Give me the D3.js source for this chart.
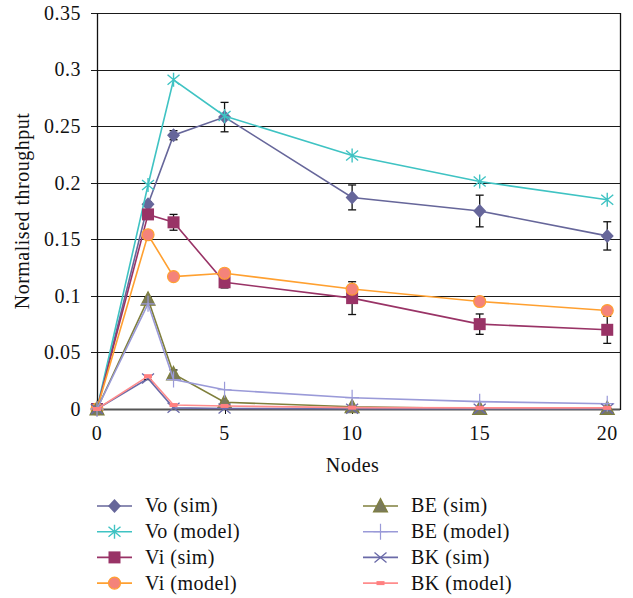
<!DOCTYPE html>
<html>
<head>
<meta charset="utf-8">
<script src="https://cdn.jsdelivr.net/npm/d3@7"></script>
<style>
  body { margin: 0; background: #fff; }
  svg text { font-family: "Liberation Serif", "DejaVu Serif", serif; fill: #111; letter-spacing: 0.5px; }
</style>
</head>
<body>
<div id="chart"></div>
<script>
// data
var nodes = [0, 2, 3, 5, 10, 15, 20];

var voSim   = [0, 0.181, 0.242, 0.258, 0.187, 0.175, 0.153];
var voSimErr = [0, 0.002, 0.004, 0.013, 0.011, 0.014, 0.0125];
var voModel = [0, 0.198, 0.291, 0.259, 0.224, 0.201, 0.185];
var viSim   = [0, 0.172, 0.165, 0.112, 0.098, 0.075, 0.070];
var viSimErr = [0, 0.002, 0.007, 0.005, 0.0145, 0.009, 0.012];
var viModel = [0, 0.154, 0.117, 0.120, 0.106, 0.095, 0.087];
var beSim   = [0, 0.097, 0.031, 0.006, 0.002, 0.0005, 0.0005];
var beSimErr = [0, 0.002, 0.0035, 0.001, 0.001, 0, 0];
var beModel = [0, 0.093, 0.026, 0.017, 0.010, 0.0065, 0.0047];
var bkSim   = [0, 0.027, 0.001, 0.0005, 0.0003, 0.0003, 0.0003];
var bkSimErr = [0, 0.001, 0, 0, 0, 0, 0];
var bkModel = [0, 0.029, 0.0035, 0.0027, 0.0012, 0.001, 0.001];

var yTicks = [0, 0.05, 0.1, 0.15, 0.2, 0.25, 0.3, 0.35];
var xTicks = [0, 5, 10, 15, 20];

var series = [
  { name: "Vo (sim)",    values: voSim,   err: voSimErr, line: "#66669a", marker: "diamond",  fill: "#66669a" },
  { name: "Vo (model)",  values: voModel, line: "#3fc3c3", marker: "star",     fill: "none" },
  { name: "Vi (sim)",    values: viSim,   err: viSimErr, line: "#993366", marker: "square",   fill: "#993366" },
  { name: "Vi (model)",  values: viModel, line: "#ffa030", marker: "circle",   fill: "#f4837a" },
  { name: "BE (sim)",    values: beSim,   err: beSimErr, line: "#7f7f3c", marker: "triangle", fill: "#7a7a5c" },
  { name: "BE (model)",  values: beModel, line: "#9a9ad8", marker: "plus",     fill: "none" },
  { name: "BK (sim)",    values: bkSim,   err: bkSimErr, line: "#6a6aa8", marker: "cross",    fill: "none" },
  { name: "BK (model)",  values: bkModel, line: "#ff8c8c", marker: "dash",     fill: "#ff8080" }
];

var width = 633, height = 598;
var plotL = 97, plotT = 13, plotR = 620, plotB = 409;
var fontSize = "20px";
var fontFamily = "Liberation Serif, DejaVu Serif, serif";

var svg = d3.select("#chart").append("svg")
  .attr("width", width)
  .attr("height", height)
  .attr("font-family", fontFamily);

var x = d3.scaleLinear().domain([0, 20.5]).range([plotL, plotR]);
var y = d3.scaleLinear().domain([0, 0.35]).range([plotB, plotT]);

// gridlines
svg.append("g").selectAll("line").data(yTicks).enter().append("line")
  .attr("x1", plotL - 6).attr("x2", plotR)
  .attr("y1", function (d) { return Math.round(y(d)) + 0.5; })
  .attr("y2", function (d) { return Math.round(y(d)) + 0.5; })
  .attr("stroke", function (d) { return d === 0 ? "#555" : "#1a1a1a"; })
  .attr("stroke-width", function (d) { return d === 0 ? 2 : 1.2; });

// frame: left axis + right edge
svg.append("line").attr("x1", plotL + 0.5).attr("x2", plotL + 0.5)
  .attr("y1", plotT).attr("y2", plotB).attr("stroke", "#111").attr("stroke-width", 1.3);
svg.append("line").attr("x1", plotR + 0.5).attr("x2", plotR + 0.5)
  .attr("y1", plotT).attr("y2", plotB + 1).attr("stroke", "#111").attr("stroke-width", 1.3);

// x ticks
svg.append("g").selectAll("line").data(xTicks).enter().append("line")
  .attr("x1", function (d) { return Math.round(x(d)) + 0.5; })
  .attr("x2", function (d) { return Math.round(x(d)) + 0.5; })
  .attr("y1", plotB).attr("y2", plotB + 5)
  .attr("stroke", "#111");

// tick labels
svg.append("g").selectAll("text").data(yTicks).enter().append("text")
  .attr("x", plotL - 16)
  .attr("y", function (d) { return y(d); })
  .attr("dy", "0.34em")
  .attr("text-anchor", "end")
  .attr("font-family", fontFamily)
  .style("font-size", fontSize)
  .text(function (d) { return d; });

svg.append("g").selectAll("text").data(xTicks).enter().append("text")
  .attr("x", function (d) { return x(d); })
  .attr("y", 440)
  .attr("text-anchor", "middle")
  .attr("font-family", fontFamily)
  .style("font-size", fontSize)
  .text(function (d) { return d; });

// axis titles
svg.append("text")
  .attr("x", (plotL + plotR) / 2 - 6)
  .attr("y", 472)
  .attr("text-anchor", "middle")
  .attr("font-family", fontFamily)
  .style("font-size", fontSize)
  .text("Nodes");

svg.append("text")
  .attr("transform", "translate(29," + ((plotT + plotB) / 2) + ") rotate(-90)")
  .attr("text-anchor", "middle")
  .attr("font-family", fontFamily)
  .style("font-size", fontSize)
  .text("Normalised throughput");

// marker drawing
function drawMarker(g, s) {
  var m = s.marker;
  if (m === "diamond") {
    g.append("path").attr("d", "M0,-7L6.5,0L0,7L-6.5,0Z").attr("fill", s.fill);
  } else if (m === "square") {
    g.append("rect").attr("x", -6).attr("y", -6).attr("width", 12).attr("height", 12).attr("fill", s.fill);
  } else if (m === "circle") {
    g.append("circle").attr("r", 6).attr("fill", s.fill).attr("stroke", s.line).attr("stroke-width", 1.2);
  } else if (m === "triangle") {
    g.append("path").attr("d", "M0,-7.5L7,6L-7,6Z").attr("fill", s.fill).attr("stroke", s.line).attr("stroke-width", 1.2);
  } else if (m === "star") {
    g.append("path").attr("d", "M0,-7V7M-6,-5L6,5M-6,5L6,-5")
      .attr("stroke", s.line).attr("stroke-width", 1.4).attr("fill", "none");
  } else if (m === "plus") {
    g.append("path").attr("d", "M0,-8V8M-7,0H7")
      .attr("stroke", s.line).attr("stroke-width", 1.2).attr("fill", "none");
  } else if (m === "cross") {
    g.append("path").attr("d", "M-6,-5L6,5M-6,5L6,-5")
      .attr("stroke", s.line).attr("stroke-width", 1.3).attr("fill", "none");
  } else if (m === "dash") {
    g.append("rect").attr("x", -4).attr("y", -2).attr("width", 8).attr("height", 4).attr("fill", s.fill);
  }
}

var line = d3.line()
  .x(function (d) { return x(d.n); })
  .y(function (d) { return y(d.v); });

var plot = svg.append("g");

series.forEach(function (s) {
  var pts = nodes.map(function (n, i) {
    return { n: n, v: s.values[i], e: s.err ? s.err[i] : 0 };
  });
  var g = plot.append("g");
  g.append("path")
    .datum(pts)
    .attr("d", line)
    .attr("fill", "none")
    .attr("stroke", s.line)
    .attr("stroke-width", 1.6);

  if (s.err) {
    var eb = g.selectAll(".err").data(pts.filter(function (d) { return d.e > 0; }))
      .enter().append("g").attr("class", "err");
    eb.append("line")
      .attr("x1", function (d) { return x(d.n); })
      .attr("x2", function (d) { return x(d.n); })
      .attr("y1", function (d) { return y(d.v + d.e); })
      .attr("y2", function (d) { return y(d.v - d.e); })
      .attr("stroke", "#111").attr("stroke-width", 1.3);
    eb.append("line")
      .attr("x1", function (d) { return x(d.n) - 4; })
      .attr("x2", function (d) { return x(d.n) + 4; })
      .attr("y1", function (d) { return y(d.v + d.e); })
      .attr("y2", function (d) { return y(d.v + d.e); })
      .attr("stroke", "#111").attr("stroke-width", 1.3);
    eb.append("line")
      .attr("x1", function (d) { return x(d.n) - 4; })
      .attr("x2", function (d) { return x(d.n) + 4; })
      .attr("y1", function (d) { return y(d.v - d.e); })
      .attr("y2", function (d) { return y(d.v - d.e); })
      .attr("stroke", "#111").attr("stroke-width", 1.3);
  }

  pts.forEach(function (d) {
    var mg = g.append("g").attr("transform", "translate(" + x(d.n) + "," + y(d.v) + ")");
    drawMarker(mg, s);
  });
});

// legend
var legend = svg.append("g");
series.forEach(function (s, i) {
  var col = Math.floor(i / 4), row = i % 4;
  var lx = col === 0 ? 97 : 363;
  var ly = 506 + row * 25.7;
  var g = legend.append("g").attr("transform", "translate(" + lx + "," + ly + ")");
  g.append("line").attr("x1", 0).attr("x2", 35).attr("y1", 0).attr("y2", 0)
    .attr("stroke", s.line).attr("stroke-width", 1.6);
  drawMarker(g.append("g").attr("transform", "translate(17.5,0)"), s);
  g.append("text")
    .attr("x", 48)
    .attr("y", 0)
    .attr("dy", "0.32em")
    .attr("font-family", fontFamily)
    .style("font-size", fontSize)
    .text(s.name);
});
</script>
</body>
</html>
